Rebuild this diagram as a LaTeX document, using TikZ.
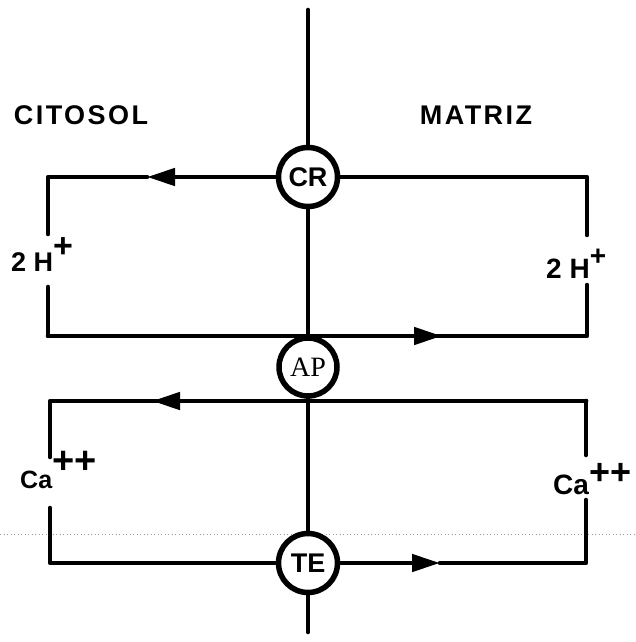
\documentclass[tikz,border=0pt]{standalone}
\usepackage{fontspec}
\setmainfont{Liberation Sans}
\newfontfamily\seriffont{Liberation Serif}
\newfontfamily\titlefont[LetterSpace=9]{Liberation Sans}
\usetikzlibrary{arrows.meta}
\tikzset{
  wire/.style={line width=4.6pt, line join=round, line cap=round},
  head/.style={-{Triangle[length=28pt,width=17pt]}},
  pump/.style={circle, draw, line width=5.5pt, fill=white, minimum size=59pt, inner sep=0pt},
  ion/.style={inner sep=0pt, anchor=base west, font=\bfseries},
  title/.style={inner sep=0pt, font=\titlefont\bfseries\fontsize{27}{27}\selectfont},
  scanline/.style={gray!80, line width=0.8pt, dash pattern=on 1pt off 2.5pt}
}
\newcommand{\ionsize}[1]{\fontsize{#1}{#1}\selectfont}
\begin{document}
\begin{tikzpicture}[x=1pt,y=-1pt]
\useasboundingbox (0,0) rectangle (635,642);
% faint dotted scan line
\coordinate (dl) at (0,534);
\coordinate (dr) at (635,534);
\draw[scanline] (dl) -- (dr);

% titles
\node[title] (cit) at (81,115) {CITOSOL};
\node[title] (mat) at (476,115) {MATRIZ};

% pumps
\node[pump] (CR) at (308,177) {\bfseries\ionsize{27}CR};
\node[pump, minimum size=58pt] (AP) at (308,367) {\seriffont\ionsize{28}AP};
\node[pump] (TE) at (308,563) {\bfseries\ionsize{27}TE};

% central membrane line
\coordinate (mtop) at (308,10);
\coordinate (mbot) at (308,632);
\draw[wire] (mtop) -- (CR);
\draw[wire] (CR) -- (AP);
\draw[wire] (AP) -- (TE);
\draw[wire] (TE) -- (mbot);

% ---------- upper loop (2H+) ----------
\coordinate (ul) at (48,177);
\coordinate (ur) at (587,177);
\coordinate (ll) at (48,336);
\coordinate (lr) at (587,336);
\coordinate (a1) at (147,177);
\coordinate (a2) at (442,336);
\coordinate (ulg) at (48,234);
\coordinate (llg) at (48,287);
\coordinate (urg) at (587,235);
\coordinate (lrg) at (587,285);

\draw[wire, head] (CR) -- (a1);
\draw[wire] (a1) -- (ul) -- (ulg);
\draw[wire] (llg) -- (ll) -- (a2);
\draw[wire, head] (ll) -- (a2);
\draw[wire] (a2) -- (lr) -- (lrg);
\draw[wire] (urg) -- (ur) -- (CR);

\node[ion] (hl) at (11,271) {\ionsize{27}2 H\raisebox{14pt}{\ionsize{34}+}};
\node[ion] (hr) at (546,278) {\ionsize{28}2 H\raisebox{13pt}{\ionsize{28}+}};

% ---------- lower loop (Ca++) ----------
\coordinate (ul2) at (50,401);
\coordinate (ur2) at (586,401);
\coordinate (ll2) at (50,563);
\coordinate (lr2) at (586,563);
\coordinate (b1) at (152,401);
\coordinate (b2) at (440,563);
\coordinate (ulg2) at (50,457);
\coordinate (llg2) at (50,508);
\coordinate (urg2) at (586,455);
\coordinate (lrg2) at (586,500);

\draw[wire] (ur2) -- (b1);
\draw[wire, head] (ur2) -- (b1);
\draw[wire] (b1) -- (ul2) -- (ulg2);
\draw[wire] (llg2) -- (ll2) -- (TE);
\draw[wire, head] (TE) -- (b2);
\draw[wire] (b2) -- (lr2) -- (lrg2);
\draw[wire] (urg2) -- (ur2);

\node[ion] (cl) at (20,488) {\ionsize{25}Ca\raisebox{15pt}{\ionsize{38}++}};
\node[ion] (cr) at (553,494) {\ionsize{28}Ca\raisebox{10pt}{\ionsize{36}++}};
\end{tikzpicture}
\end{document}
